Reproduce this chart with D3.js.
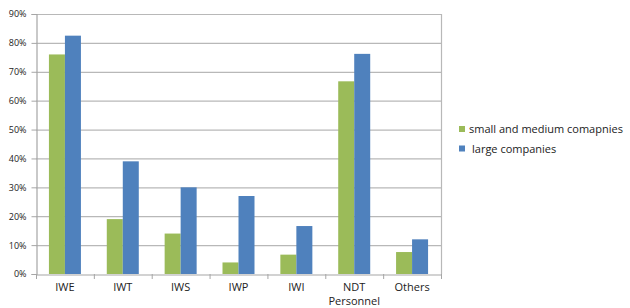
<!DOCTYPE html>
<html><head><meta charset="utf-8">
<script src="https://cdn.jsdelivr.net/npm/d3@7"></script>
<style>body{margin:0;background:#fff}svg{display:block}text{font-family:"Open Sans","Liberation Sans",sans-serif;fill:#222}</style>
</head><body><svg id="c" width="630" height="308"></svg>
<script>
const categories = ["IWE","IWT","IWS","IWP","IWI","NDT\nPersonnel","Others"];
const smallMedium = [76, 19, 14, 4, 6.7, 66.7, 7.6];
const large = [82.5, 39, 30, 27, 16.6, 76.2, 12];
const seriesNames = ["small and medium comapnies", "large companies"];
const colors = ["#9bbb59", "#4f81bd"];
const yTicks = [0,10,20,30,40,50,60,70,80,90];

const svg = d3.select("#c");
const L = 36, R = 441, T = 14, B = 274;
const x = d3.scaleBand().domain(categories).range([L, R]).paddingInner(0).paddingOuter(0);
const y = d3.scaleLinear().domain([0, 90]).range([B, T]);
const inner = d3.scaleBand().domain([0,1]).range([0, 32]);

// gridlines
svg.append("g").selectAll("line").data(yTicks.filter(d=>d>0)).join("line")
  .attr("x1", L).attr("x2", R).attr("y1", d=>y(d)+0.5).attr("y2", d=>y(d)+0.5)
  .attr("stroke", "#b8b8b8").attr("stroke-width", 1.2);
// right border
svg.append("line").attr("x1", R+0.5).attr("x2", R+0.5).attr("y1", T).attr("y2", B)
  .attr("stroke", "#b8b8b8").attr("stroke-width", 1.2);

// bars
const series = [smallMedium, large];
series.forEach((vals, si) => {
  svg.append("g").selectAll("rect").data(vals).join("rect")
    .attr("x", (d,i) => x(categories[i]) + x.bandwidth()/2 - 16 + inner(si))
    .attr("y", d => y(d))
    .attr("width", inner.bandwidth())
    .attr("height", d => B - y(d))
    .attr("fill", colors[si]);
});

// y axis
const ya = svg.append("g").attr("transform", `translate(${L+0.5},0)`)
  .call(d3.axisLeft(y).tickValues(yTicks).tickFormat(d=>d+"%").tickSize(5).tickPadding(5));
ya.select(".domain").attr("stroke", "#a6a6a6").attr("stroke-width", 1.2);
ya.selectAll(".tick line").attr("stroke", "#a6a6a6");
ya.selectAll(".tick text").attr("font-size", "9px").attr("fill", "#333")
  .style("font-family", "'Open Sans','Liberation Sans',sans-serif");

// x axis
const xa = svg.append("g").attr("transform", `translate(0,${B+0.5})`)
  .call(d3.axisBottom(x).tickSize(0).tickFormat(""));
xa.select(".domain").attr("stroke", "#a6a6a6").attr("stroke-width", 1.2);
// category boundary ticks
const bounds = categories.map(c => x(c)).concat([R]);
svg.append("g").selectAll("line").data(bounds).join("line")
  .attr("x1", d=>d+0.5).attr("x2", d=>d+0.5).attr("y1", B).attr("y2", B+5)
  .attr("stroke", "#a6a6a6");
// category labels
svg.append("g").selectAll("text").data(categories).join("text")
  .attr("x", d => x(d) + x.bandwidth()/2)
  .attr("y", 291)
  .attr("text-anchor", "middle")
  .attr("font-size", "11px")
  .each(function(d){
    const parts = d.split("\n");
    d3.select(this).selectAll("tspan").data(parts).join("tspan")
      .attr("x", x(d) + x.bandwidth()/2)
      .attr("dy", (p,i)=> i===0 ? 0 : 13.5)
      .text(p=>p);
  });

// legend
const lg = svg.append("g");
seriesNames.forEach((n, i) => {
  const cy = 129 + i*19.5;
  lg.append("rect").attr("x", 459).attr("y", cy-3).attr("width", 6).attr("height", 6).attr("fill", colors[i]);
  lg.append("text").attr("x", i===0 ? 469 : 472).attr("y", cy+4).attr("font-size", "11px").text(n);
});
</script></body></html>
